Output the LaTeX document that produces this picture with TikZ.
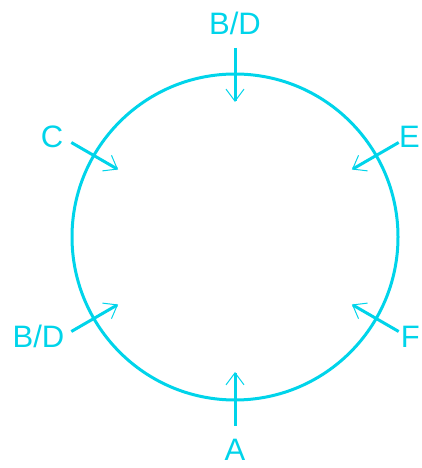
\documentclass[tikz,border=0pt]{standalone}
\usepackage{fontspec}
\setmainfont{Liberation Sans}
\usetikzlibrary{arrows.meta, positioning, calc}
\definecolor{ringcyan}{RGB}{0, 212, 234}
\tikzset{
  ring/.style={
    draw=ringcyan,
    line width=3pt
  },
  port/.style={
    inner sep=0pt,
    text=ringcyan,
    font=\fontsize{31}{31}\selectfont
  },
  inlet/.style={
    draw=ringcyan,
    line width=3pt,
    -{Straight Barb[length=12pt, width=18pt, line width=1pt]}
  }
}

\begin{document}
\begin{tikzpicture}[x=1pt, y=1pt]
  \useasboundingbox (0,0) rectangle (421,468);
  \coordinate (hub) at (235,231);
  \draw[ring] (hub) circle (163pt);

  % port labels
  \node[port, anchor=base] (pTop) at (235,433) {B/D};
  \node[port, anchor=base] (pA) at (235,7) {A};
  \node[port, anchor=base] (pC) at (52,320) {C};
  \node[port, anchor=base east] (pE) at (420,320) {E};
  \node[port, anchor=base] (pBD) at (38.5,120) {B/D};
  \node[port, anchor=base east] (pF) at (420,120) {F};

  % radial inlets
  \foreach \ang/\tag in {90/top, 270/a, 150/c, 30/e, 210/bd, 330/f} {
    \coordinate (tail\tag) at ($(hub)+(\ang:189pt)$);
    \coordinate (tip\tag) at ($(hub)+(\ang:135pt)$);
    \draw[inlet] (tail\tag) -- (tip\tag);
  }
\end{tikzpicture}
\end{document}
